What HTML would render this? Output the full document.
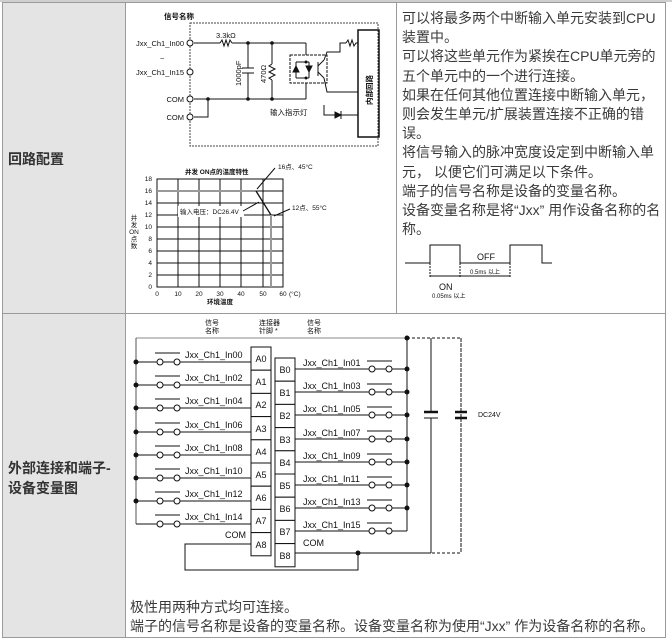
<!DOCTYPE html>
<html><head><meta charset="utf-8">
<style>
html,body{margin:0;padding:0;background:#fff;}
body{width:672px;height:641px;position:relative;overflow:hidden;font-family:"Liberation Sans","Noto Sans CJK SC",sans-serif;color:#333;}
.abs{position:absolute;}
.t{position:absolute;font-size:14px;line-height:19.2px;white-space:nowrap;color:#3a3a3a;}
.lbl{position:absolute;font-size:14px;font-weight:bold;color:#333;white-space:nowrap;}
svg text{font-family:"Liberation Sans","Noto Sans CJK SC",sans-serif;fill:#111;}
</style></head><body>
<!-- table -->
<div class="abs" style="left:2px;top:2px;width:123px;height:636px;background:#e4e4e4;"></div>
<div class="abs" style="left:2px;top:2px;width:664px;height:636px;border:1px solid #9a9a9a;box-sizing:border-box;"></div>
<div class="abs" style="left:125px;top:2px;width:1px;height:636px;background:#9a9a9a;"></div>
<div class="abs" style="left:396px;top:2px;width:1px;height:312px;background:#9a9a9a;"></div>
<div class="abs" style="left:2px;top:313px;width:664px;height:1px;background:#9a9a9a;"></div>
<div class="abs" style="left:0;top:0;width:672px;height:2px;background:#cfcfcf;"></div>

<div class="lbl" style="left:8px;top:149px;">回路配置</div>
<div class="lbl" style="left:8px;top:458px;">外部连接和端子-</div>
<div class="lbl" style="left:8px;top:478px;">设备变量图</div>

<div class="t" style="left:402px;top:9px;">可以将最多两个中断输入单元安装到CPU<br>装置中。<br>可以将这些单元作为紧挨在CPU单元旁的<br>五个单元中的一个进行连接。<br>如果在任何其他位置连接中断输入单元，<br>则会发生单元/扩展装置连接不正确的错<br>误。<br>将信号输入的脉冲宽度设定到中断输入单<br>元， 以便它们可满足以下条件。<br>端子的信号名称是设备的变量名称。<br>设备变量名称是将“Jxx” 用作设备名称的名<br>称。</div>

<div class="t" style="left:130px;top:598px;">极性用两种方式均可连接。<br>端子的信号名称是设备的变量名称。设备变量名称为使用“Jxx” 作为设备名称的名称。</div>

<svg class="abs" style="left:0;top:0" width="672" height="641" viewBox="0 0 672 641">
<g stroke="#111" stroke-width="1" fill="none">
<!-- circuit -->
<rect x="190" y="23" width="188" height="123" stroke="#444" stroke-dasharray="2,1"/>
<line x1="194" y1="43" x2="220" y2="43"/>
<polyline points="220,43 222,40 224,46 226,40 228,46 230,40 232,43"/>
<line x1="232" y1="43" x2="306" y2="43"/>
<line x1="194" y1="99" x2="306" y2="99"/>
<line x1="248" y1="43" x2="248" y2="68"/><line x1="242" y1="68" x2="254" y2="68"/><line x1="242" y1="73" x2="254" y2="73"/><line x1="248" y1="73" x2="248" y2="99"/>
<line x1="272" y1="43" x2="272" y2="64"/><polyline points="272,64 269,66 275,69 269,72 275,75 269,78 272,80"/><line x1="272" y1="80" x2="272" y2="99"/>
<line x1="306" y1="43" x2="306" y2="55"/><line x1="306" y1="83" x2="306" y2="99"/>
<rect x="290" y="55" width="37" height="28" stroke-dasharray="3,1"/>
<line x1="296" y1="62" x2="309" y2="62"/><line x1="296" y1="78" x2="309" y2="78"/>
<line x1="296" y1="62" x2="296" y2="78"/><line x1="309" y1="62" x2="309" y2="78"/>
<polygon points="293,72 299,72 296,66" fill="#111"/><polygon points="306,66 312,66 309,72" fill="#111"/>
<line x1="318" y1="62" x2="318" y2="76"/><line x1="318" y1="66" x2="324" y2="60"/><line x1="318" y1="72" x2="324" y2="78"/>
<polyline points="324,60 327,52 340,52 340,43 346,43"/>
<polyline points="346,43 348,40 350,46 352,40 354,46 356,43 358,43"/>
<polyline points="324,78 327,92 358,92"/>
<rect x="358" y="30" width="21" height="107" stroke-width="1.5"/>
<polyline points="324,105 324,115 335,115"/><polygon points="335,112 335,118 341,115" fill="#111"/><line x1="341" y1="111" x2="341" y2="119"/><line x1="341" y1="115" x2="358" y2="115"/>
<polyline points="208,99 208,117 194,117"/>
<circle cx="190" cy="43" r="3" fill="#fff"/><circle cx="190" cy="72" r="3" fill="#fff"/><circle cx="190" cy="99" r="3" fill="#fff"/><circle cx="190" cy="117" r="3" fill="#fff"/>
</g>
<g fill="#111"><circle cx="248" cy="43" r="1.8"/><circle cx="272" cy="43" r="1.8"/><circle cx="248" cy="99" r="1.8"/><circle cx="272" cy="99" r="1.8"/><circle cx="208" cy="99" r="1.8"/><circle cx="306" cy="62" r="1.5"/><circle cx="306" cy="78" r="1.5"/></g>
<g font-size="7.5">
<text x="164" y="19" font-weight="bold">信号名称</text>
<text x="184" y="46" text-anchor="end">Jxx_Ch1_In00</text>
<text x="160" y="61">~</text>
<text x="184" y="75" text-anchor="end">Jxx_Ch1_In15</text>
<text x="184" y="102" text-anchor="end">COM</text>
<text x="184" y="120" text-anchor="end">COM</text>
<text x="216" y="38">3.3kΩ</text>
<text x="270" y="115">输入指示灯</text>
<text transform="translate(241,86) rotate(-90)">1000pF</text>
<text transform="translate(266,83) rotate(-90)">470Ω</text>
<text transform="translate(372,105) rotate(-90)" font-weight="bold">内部回路</text>
</g>
<!-- chart -->
<g stroke="#111" stroke-width="1" fill="none">
<rect x="157" y="179" width="126" height="108"/>
<path d="M157 191H283M157 203H283M157 215H283M157 227H283M157 239H283M157 251H283M157 263H283M157 275H283"/>
<path d="M178 179V287M199 179V287M220 179V287M241 179V287M263 179V287"/>
</g>
<rect x="178" y="206" width="66" height="11" fill="#fff"/>
<line x1="157" y1="191" x2="256" y2="191" stroke="#999" stroke-width="2"/>
<line x1="256" y1="191" x2="271" y2="215" stroke="#111" stroke-width="1.3"/>
<line x1="271" y1="215" x2="271" y2="287" stroke="#999" stroke-width="2"/>
<g stroke="#111" stroke-width="1"><line x1="275" y1="168" x2="257" y2="189"/><line x1="290" y1="209" x2="274" y2="216"/><line x1="243" y1="211" x2="259" y2="202"/></g>
<g font-size="6.5">
<text x="185" y="174" font-weight="bold">并发 ON点的温度特性</text>
<text x="278" y="169">16点、45°C</text>
<text x="292" y="210">12点、55°C</text>
<text x="180" y="214">输入电压：DC26.4V</text>
<text x="152" y="181" text-anchor="end">18</text><text x="152" y="193" text-anchor="end">16</text><text x="152" y="205" text-anchor="end">14</text><text x="152" y="217" text-anchor="end">12</text><text x="152" y="229" text-anchor="end">10</text><text x="152" y="241" text-anchor="end">8</text><text x="152" y="253" text-anchor="end">6</text><text x="152" y="265" text-anchor="end">4</text><text x="152" y="277" text-anchor="end">2</text><text x="152" y="289" text-anchor="end">0</text>
<text x="157" y="296" text-anchor="middle">0</text><text x="178" y="296" text-anchor="middle">10</text><text x="199" y="296" text-anchor="middle">20</text><text x="220" y="296" text-anchor="middle">30</text><text x="241" y="296" text-anchor="middle">40</text><text x="263" y="296" text-anchor="middle">50</text><text x="283" y="296" text-anchor="middle">60</text><text x="289" y="296">(°C)</text>
<text x="207" y="304" font-weight="bold">环境温度</text>
<text x="134" y="220" text-anchor="middle">并</text><text x="134" y="227" text-anchor="middle">发</text><text x="134" y="234" text-anchor="middle">ON</text><text x="134" y="241" text-anchor="middle">点</text><text x="134" y="248" text-anchor="middle">数</text>
</g>
<!-- pulse -->
<polyline points="405,263 430,263 430,245 460,245 460,263 510,263 510,245 542,245 542,263 552,263" fill="none" stroke="#111"/>
<g stroke="#111" stroke-dasharray="2,1"><line x1="430" y1="263" x2="430" y2="278"/><line x1="460" y1="263" x2="460" y2="278"/><line x1="510" y1="263" x2="510" y2="278"/></g>
<g stroke="#111"><line x1="430" y1="276" x2="460" y2="276"/><line x1="460" y1="276" x2="510" y2="276"/></g>
<g font-size="9"><text x="477" y="260">OFF</text><text x="439" y="290">ON</text></g>
<g font-size="6"><text x="432" y="298">0.05ms 以上</text><text x="470" y="274">0.5ms 以上</text></g>
<!-- wiring -->
<g stroke="#111" stroke-width="1" fill="none">
<line x1="136" y1="338" x2="407" y2="338" stroke="#888"/>
<line x1="136" y1="338" x2="136" y2="524" stroke="#555"/>
<line x1="407" y1="338" x2="407" y2="531"/>
<path d="M407 338H461V553H431" stroke-dasharray="3,2"/>
<line x1="431" y1="338" x2="431" y2="412"/><line x1="431" y1="418" x2="431" y2="553"/>
<line x1="461" y1="338" x2="461" y2="412" stroke-dasharray="3,2"/><line x1="461" y1="418" x2="461" y2="553" stroke-dasharray="3,2"/>
<line x1="295" y1="553" x2="431" y2="553"/>
<polyline points="251,544 185,544 185,570 358,570 358,553"/>
</g>
<g stroke="#111" stroke-width="2.5"><line x1="424" y1="412" x2="438" y2="412"/><line x1="455" y1="412" x2="467" y2="412"/><line x1="455" y1="418" x2="467" y2="418"/><line x1="424" y1="418" x2="438" y2="418" stroke-width="1"/></g>
<g id="L" stroke="#111" fill="none">
<path d="M136 362H157M163 362H174M180 362H251M155 353H180"/>
<path d="M136 385H157M163 385H174M180 385H251M155 376H180"/>
<path d="M136 408H157M163 408H174M180 408H251M155 399H180"/>
<path d="M136 432H157M163 432H174M180 432H251M155 423H180"/>
<path d="M136 455H157M163 455H174M180 455H251M155 446H180"/>
<path d="M136 478H157M163 478H174M180 478H251M155 469H180"/>
<path d="M136 501H157M163 501H174M180 501H251M155 492H180"/>
<path d="M136 524H157M163 524H174M180 524H251M155 515H180"/>
<path d="M295 369H369M375 369H386M392 369H407M367 361H392"/>
<path d="M295 392H369M375 392H386M392 392H407M367 384H392"/>
<path d="M295 415H369M375 415H386M392 415H407M367 407H392"/>
<path d="M295 439H369M375 439H386M392 439H407M367 431H392"/>
<path d="M295 462H369M375 462H386M392 462H407M367 454H392"/>
<path d="M295 485H369M375 485H386M392 485H407M367 477H392"/>
<path d="M295 508H369M375 508H386M392 508H407M367 500H392"/>
<path d="M295 531H369M375 531H386M392 531H407M367 523H392"/>
</g>
<g stroke="#111" fill="#fff">
<circle cx="160" cy="362" r="3"/><circle cx="177" cy="362" r="3"/>
<circle cx="160" cy="385" r="3"/><circle cx="177" cy="385" r="3"/>
<circle cx="160" cy="408" r="3"/><circle cx="177" cy="408" r="3"/>
<circle cx="160" cy="432" r="3"/><circle cx="177" cy="432" r="3"/>
<circle cx="160" cy="455" r="3"/><circle cx="177" cy="455" r="3"/>
<circle cx="160" cy="478" r="3"/><circle cx="177" cy="478" r="3"/>
<circle cx="160" cy="501" r="3"/><circle cx="177" cy="501" r="3"/>
<circle cx="160" cy="524" r="3"/><circle cx="177" cy="524" r="3"/>
<circle cx="372" cy="369" r="3"/><circle cx="389" cy="369" r="3"/>
<circle cx="372" cy="392" r="3"/><circle cx="389" cy="392" r="3"/>
<circle cx="372" cy="415" r="3"/><circle cx="389" cy="415" r="3"/>
<circle cx="372" cy="439" r="3"/><circle cx="389" cy="439" r="3"/>
<circle cx="372" cy="462" r="3"/><circle cx="389" cy="462" r="3"/>
<circle cx="372" cy="485" r="3"/><circle cx="389" cy="485" r="3"/>
<circle cx="372" cy="508" r="3"/><circle cx="389" cy="508" r="3"/>
<circle cx="372" cy="531" r="3"/><circle cx="389" cy="531" r="3"/>
</g>
<g fill="#111">
<circle cx="136" cy="362" r="2.5"/><circle cx="136" cy="385" r="2.5"/><circle cx="136" cy="408" r="2.5"/><circle cx="136" cy="432" r="2.5"/><circle cx="136" cy="455" r="2.5"/><circle cx="136" cy="478" r="2.5"/><circle cx="136" cy="501" r="2.5"/>
<circle cx="407" cy="338" r="2.5"/><circle cx="407" cy="369" r="2.5"/><circle cx="407" cy="392" r="2.5"/><circle cx="407" cy="415" r="2.5"/><circle cx="407" cy="439" r="2.5"/><circle cx="407" cy="462" r="2.5"/><circle cx="407" cy="485" r="2.5"/><circle cx="407" cy="508" r="2.5"/>
<circle cx="358" cy="553" r="2.5"/>
</g>
<g stroke="#111" fill="#fff">
<rect x="251" y="347" width="20" height="23.2"/><rect x="251" y="370.2" width="20" height="23.2"/><rect x="251" y="393.4" width="20" height="23.2"/><rect x="251" y="416.6" width="20" height="23.2"/><rect x="251" y="439.8" width="20" height="23.2"/><rect x="251" y="463" width="20" height="23.2"/><rect x="251" y="486.2" width="20" height="23.2"/><rect x="251" y="509.4" width="20" height="23.2"/><rect x="251" y="532.6" width="20" height="23.2"/>
<rect x="275" y="358" width="20" height="23.2"/><rect x="275" y="381.2" width="20" height="23.2"/><rect x="275" y="404.4" width="20" height="23.2"/><rect x="275" y="427.6" width="20" height="23.2"/><rect x="275" y="450.8" width="20" height="23.2"/><rect x="275" y="474" width="20" height="23.2"/><rect x="275" y="497.2" width="20" height="23.2"/><rect x="275" y="520.4" width="20" height="23.2"/><rect x="275" y="543.6" width="20" height="23.2"/>
</g>
<g font-size="9" text-anchor="middle">
<text x="261" y="362">A0</text><text x="261" y="385">A1</text><text x="261" y="408">A2</text><text x="261" y="432">A3</text><text x="261" y="455">A4</text><text x="261" y="478">A5</text><text x="261" y="501">A6</text><text x="261" y="524">A7</text><text x="261" y="548">A8</text>
<text x="285" y="373">B0</text><text x="285" y="396">B1</text><text x="285" y="419">B2</text><text x="285" y="443">B3</text><text x="285" y="466">B4</text><text x="285" y="489">B5</text><text x="285" y="512">B6</text><text x="285" y="535">B7</text><text x="285" y="559">B8</text>
</g>
<g font-size="9">
<text x="185" y="358">Jxx_Ch1_In00</text><text x="185" y="381">Jxx_Ch1_In02</text><text x="185" y="404">Jxx_Ch1_In04</text><text x="185" y="428">Jxx_Ch1_In06</text><text x="185" y="451">Jxx_Ch1_In08</text><text x="185" y="474">Jxx_Ch1_In10</text><text x="185" y="497">Jxx_Ch1_In12</text><text x="185" y="520">Jxx_Ch1_In14</text>
<text x="303" y="366">Jxx_Ch1_In01</text><text x="303" y="389">Jxx_Ch1_In03</text><text x="303" y="412">Jxx_Ch1_In05</text><text x="303" y="436">Jxx_Ch1_In07</text><text x="303" y="459">Jxx_Ch1_In09</text><text x="303" y="482">Jxx_Ch1_In11</text><text x="303" y="505">Jxx_Ch1_In13</text><text x="303" y="528">Jxx_Ch1_In15</text>
<text x="225" y="538">COM</text><text x="303" y="546">COM</text>
</g>
<g font-size="7">
<text x="205" y="325">信号</text><text x="205" y="333">名称</text>
<text x="259" y="325">连接器</text><text x="259" y="333">针脚 *</text>
<text x="307" y="325">信号</text><text x="307" y="333">名称</text>
<text x="478" y="417">DC24V</text>
</g>
</svg>
</body></html>
